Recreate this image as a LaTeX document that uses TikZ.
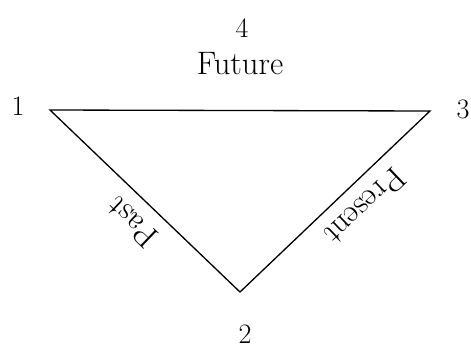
\documentclass[tikz,border=0pt]{standalone}
\usetikzlibrary{positioning}
\tikzset{
  num/.style={font=\fontsize{16}{19}\selectfont, inner sep=1pt},
  tense/.style={font=\fontsize{18.5}{22}\selectfont, inner xsep=2pt, inner ysep=7.5pt},
  side/.style={line width=0.75pt},
}
\begin{document}
\begin{tikzpicture}[x=0.02cm, y=-0.02cm]
  \useasboundingbox (0,0) rectangle (471,349);
  \coordinate (v1) at (50,110);
  \coordinate (v2) at (240,292);
  \coordinate (v3) at (430,111);
  \node[num] (n1) at (18,106) {1};
  \node[num] (n3) at (463,109) {3};
  \node[num] (n2) at (245,334) {2};
  \node[num] (n4) at (242,28) {4};
  \node[tense, inner sep=2pt] (future) at (240,64) {Future};
  \draw[side] (v1) -- (v3) -- (v2) -- cycle;
  \path (v1) -- node[tense, pos=0.52, rotate=136.2, anchor=south] (past) {Past} (v2);
  \path (v3) -- node[tense, pos=0.43, rotate=-136.4, anchor=south] (present) {Present} (v2);
\end{tikzpicture}
\end{document}
